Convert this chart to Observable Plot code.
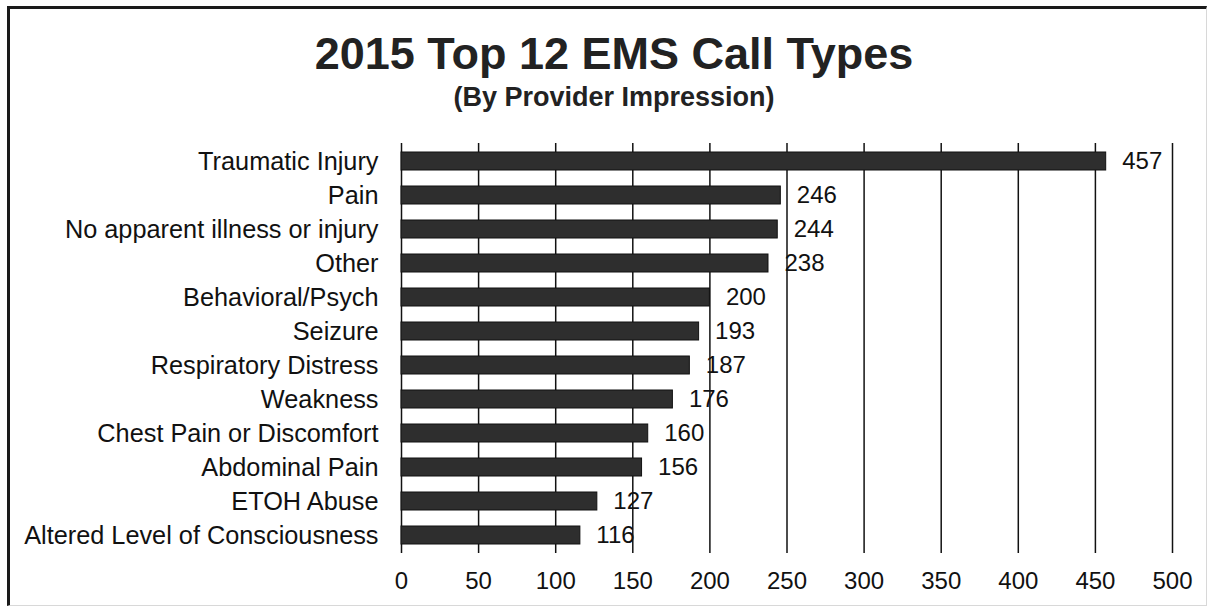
<!DOCTYPE html>
<html>
<head>
<meta charset="utf-8">
<script src="https://cdn.jsdelivr.net/npm/d3@7"></script>
<script src="https://cdn.jsdelivr.net/npm/@observablehq/plot@0.6"></script>
<style>
  html, body { margin: 0; padding: 0; background: #fff; }
  #wrap { position: relative; width: 1214px; height: 609px; overflow: hidden; font-family: "Liberation Sans", Arial, sans-serif; }
  #frame { position: absolute; left: 7px; top: 6px; width: 1200px; height: 600px; border-left: 3px solid #1a1a1a; border-top: 3px solid #1a1a1a; border-right: 1px solid #d8d8d8; border-bottom: 1px solid #d8d8d8; box-sizing: border-box; }
  .title { position: absolute; left: 0; width: 1228px; text-align: center; font-weight: bold; color: #222; line-height: 1; white-space: nowrap; }
  #t1 { top: 31px; font-size: 45px; }
  #t2 { top: 84px; font-size: 27px; }
  #chart { position: absolute; left: 0; top: 130px; }
</style>
</head>
<body>
<div id="wrap">
  <div id="frame"></div>
  <div class="title" id="t1">2015 Top 12 EMS Call Types</div>
  <div class="title" id="t2">(By Provider Impression)</div>
  <div id="chart"></div>
</div>
<script>
const categories = [
  "Traumatic Injury",
  "Pain",
  "No apparent illness or injury",
  "Other",
  "Behavioral/Psych",
  "Seizure",
  "Respiratory Distress",
  "Weakness",
  "Chest Pain or Discomfort",
  "Abdominal Pain",
  "ETOH Abuse",
  "Altered Level of Consciousness"
];
const values = [457, 246, 244, 238, 200, 193, 187, 176, 160, 156, 127, 116];
const xTicks = [0, 50, 100, 150, 200, 250, 300, 350, 400, 450, 500];

const data = categories.map((c, i) => ({category: c, value: values[i]}));

const chart = Plot.plot({
  width: 1214,
  height: 479,
  marginTop: 13,
  marginBottom: 56,
  marginLeft: 401,
  marginRight: 42,
  style: {fontFamily: "'Liberation Sans', Arial, sans-serif", background: "transparent", color: "#111"},
  x: {domain: [0, 500], ticks: xTicks},
  y: {domain: categories, paddingInner: 0.46, paddingOuter: 0.23},
  marks: [
    Plot.gridX(xTicks, {stroke: "#111", strokeOpacity: 1, strokeWidth: 1.5}),
    Plot.barX(data, {x: "value", y: "category", fill: "#2e2e2e", stroke: "#111", strokeWidth: 1}),
    Plot.text(data, {x: "value", y: "category", text: d => String(d.value), dx: 16, textAnchor: "start", fontSize: 24, fill: "#111"}),
    Plot.axisX(xTicks, {tickSize: 0, tickPadding: 18, fontSize: 24, label: null, fill: "#111"}),
    Plot.axisY({tickSize: 0, tickPadding: 23, fontSize: 25.3, label: null, fill: "#111"})
  ]
});
document.getElementById("chart").appendChild(chart);
</script>
</body>
</html>
